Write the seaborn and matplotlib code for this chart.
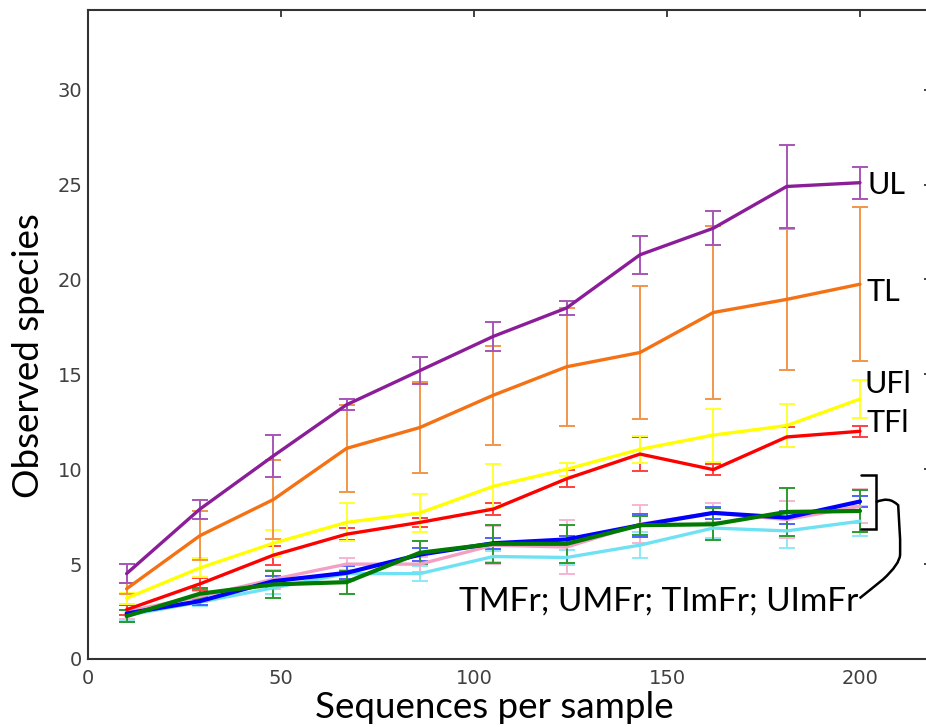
import numpy as np
import pandas as pd
import matplotlib
matplotlib.use("Agg")
import matplotlib.pyplot as plt
from matplotlib.path import Path
from matplotlib.patches import PathPatch
import seaborn as sns

# ---- data ----
seqs = [10, 29, 48, 67, 86, 105, 124, 143, 162, 181, 200]

UL_mean = [4.5, 7.9, 10.7, 13.4, 15.2, 17.0, 18.5, 21.3, 22.7, 24.9, 25.1]
UL_err = [0.5, 0.5, 1.1, 0.3, 0.7, 0.75, 0.35, 1.0, 0.9, 2.2, 0.85]

TL_mean = [3.7, 6.5, 8.4, 11.1, 12.2, 13.9, 15.4, 16.15, 18.26, 18.95, 19.75]
TL_err = [0.3, 1.3, 2.1, 2.3, 2.4, 2.6, 3.1, 3.5, 4.55, 3.7, 4.05]

UFl_mean = [3.2, 4.8, 6.1, 7.2, 7.7, 9.1, 10.0, 11.05, 11.8, 12.3, 13.7]
UFl_err = [0.3, 0.5, 0.7, 1.0, 1.0, 1.15, 0.35, 0.7, 1.4, 1.15, 1.0]

TFl_mean = [2.6, 3.96, 5.47, 6.58, 7.2, 7.9, 9.5, 10.8, 9.98, 11.7, 12.0]
TFl_err = [0.3, 0.3, 0.5, 0.3, 0.25, 0.3, 0.45, 0.9, 0.3, 0.55, 0.3]

TMFr_mean = [2.4, 3.05, 4.1, 4.54, 5.5, 6.1, 6.3, 7.05, 7.7, 7.45, 8.3]
TMFr_err = [0.45, 0.2, 0.3, 0.35, 0.35, 0.3, 0.2, 0.6, 0.3, 0.35, 0.3]

UMFr_mean = [2.26, 3.44, 3.93, 4.05, 5.6, 6.07, 6.07, 7.05, 7.1, 7.75, 7.8]
UMFr_err = [0.3, 0.3, 0.7, 0.6, 0.6, 1.0, 1.0, 0.5, 0.85, 1.25, 1.1]

TImFr_mean = [2.5, 3.3, 4.2, 5.0, 5.0, 6.0, 5.9, 7.1, 7.7, 7.35, 8.05]
TImFr_err = [0.4, 0.3, 0.5, 0.3, 0.4, 1.0, 1.4, 1.0, 0.5, 1.0, 0.9]

UImFr_mean = [2.3, 3.0, 3.75, 4.5, 4.5, 5.4, 5.35, 6.0, 6.9, 6.75, 7.26]
UImFr_err = [0.3, 0.2, 0.3, 0.4, 0.4, 0.3, 0.4, 0.7, 0.5, 0.9, 0.8]

series = ["UImFr", "TImFr", "TMFr", "UMFr", "TFl", "UFl", "TL", "UL"]
means = {"UL": UL_mean, "TL": TL_mean, "UFl": UFl_mean, "TFl": TFl_mean,
         "TMFr": TMFr_mean, "UMFr": UMFr_mean, "TImFr": TImFr_mean, "UImFr": UImFr_mean}
errs = {"UL": UL_err, "TL": TL_err, "UFl": UFl_err, "TFl": TFl_err,
        "TMFr": TMFr_err, "UMFr": UMFr_err, "TImFr": TImFr_err, "UImFr": UImFr_err}

colors = {"UL": "#8B1E98", "TL": "#F47114", "UFl": "#FFFF00", "TFl": "#FF0000",
          "TMFr": "#0000FF", "UMFr": "#007A00", "TImFr": "#F2A0C4", "UImFr": "#6EE2F2"}
err_colors = {"UL": "#A755B5", "TL": "#F2954A", "UFl": "#FFFF30", "TFl": "#FF4040",
              "TMFr": "#5060FF", "UMFr": "#2E9A2E", "TImFr": "#F5B5D0", "UImFr": "#8CEAF5"}
widths = {"UL": 2.4, "TL": 2.4, "UFl": 2.4, "TFl": 2.4,
          "TMFr": 3.0, "UMFr": 3.0, "TImFr": 2.4, "UImFr": 2.4}

rows = []
for s in series:
    for x, m, e in zip(seqs, means[s], errs[s]):
        rows.append({"seq": x, "obs": m, "err": e, "group": s})
df = pd.DataFrame(rows)

sns.set_style("white")
plt.rcParams["font.family"] = ["DejaVu Sans"]

fig = plt.figure(figsize=(9.26, 7.27), dpi=100)
ax = fig.add_axes([88 / 926, (727 - 659) / 727, (931 - 88) / 926, (659 - 10) / 727])

for s in series:
    sub = df[df["group"] == s]
    ax.errorbar(sub["seq"], sub["obs"], yerr=sub["err"], fmt="none",
                ecolor=err_colors[s], elinewidth=1.4, capsize=6, capthick=1.4, zorder=2)
for s in series:
    sub = df[df["group"] == s]
    sns.lineplot(data=sub, x="seq", y="obs", ax=ax, color=colors[s],
                 linewidth=widths[s], legend=False, zorder=3)

ax.set_xlim(0, 218.4)
ax.set_ylim(0, 34.2)
ax.set_xticks([0, 50, 100, 150, 200])
ax.set_yticks([0, 5, 10, 15, 20, 25, 30])

for sp in ax.spines.values():
    sp.set_color("#333333")
    sp.set_linewidth(1.5)
ax.tick_params(axis="both", direction="in", length=5, width=1.3, color="#333333",
               labelsize=14, labelcolor="#404040", top=True, right=True)
ax.tick_params(axis="x", pad=7)
ax.tick_params(axis="y", pad=4)

lab_font = dict(family=["Lato", "DejaVu Sans"], size=26.5, color="black")
ax.set_xlabel("Sequences per sample", **lab_font)
ax.set_ylabel("Observed species", **lab_font)
ax.xaxis.set_label_coords(0.4816, -0.049)
ax.yaxis.set_label_coords(-0.051, 0.468)

ann_font = dict(family=["Lato", "DejaVu Sans"], size=22, color="black")
ax.text(202.0, 25.0, "UL", ha="left", va="center", **ann_font)
ax.text(201.6, 19.35, "TL", ha="left", va="center", **ann_font)
ax.text(201.1, 14.5, "UFl", ha="left", va="center", **ann_font)
ax.text(201.6, 12.45, "TFl", ha="left", va="center", **ann_font)
ax.text(199.5, 3.05, "TMFr; UMFr; TImFr; UImFr", ha="right", va="center",
        family=["Lato", "DejaVu Sans"], size=24, color="black")

# bracket
ax.plot([200.3, 204.1, 204.1, 200.3], [9.68, 9.68, 6.84, 6.84], color="black",
        linewidth=1.8, solid_joinstyle="miter", zorder=4)
verts = [(204.1, 8.26), (207.5, 8.6), (209.9, 8.1), (210.2, 7.0),
         (210.4, 6.3), (210.4, 5.5), (210.3, 5.0),
         (206.0, 4.2), (203.0, 3.7), (199.9, 3.2)]
codes = [Path.MOVETO, Path.CURVE3, Path.CURVE3, Path.CURVE3, Path.CURVE3,
         Path.LINETO, Path.CURVE3, Path.CURVE3, Path.CURVE3, Path.CURVE3]
ax.add_patch(PathPatch(Path(verts, codes), facecolor="none", edgecolor="black",
                       linewidth=1.8, zorder=4, clip_on=False))

fig.savefig("out.png", dpi=100)
